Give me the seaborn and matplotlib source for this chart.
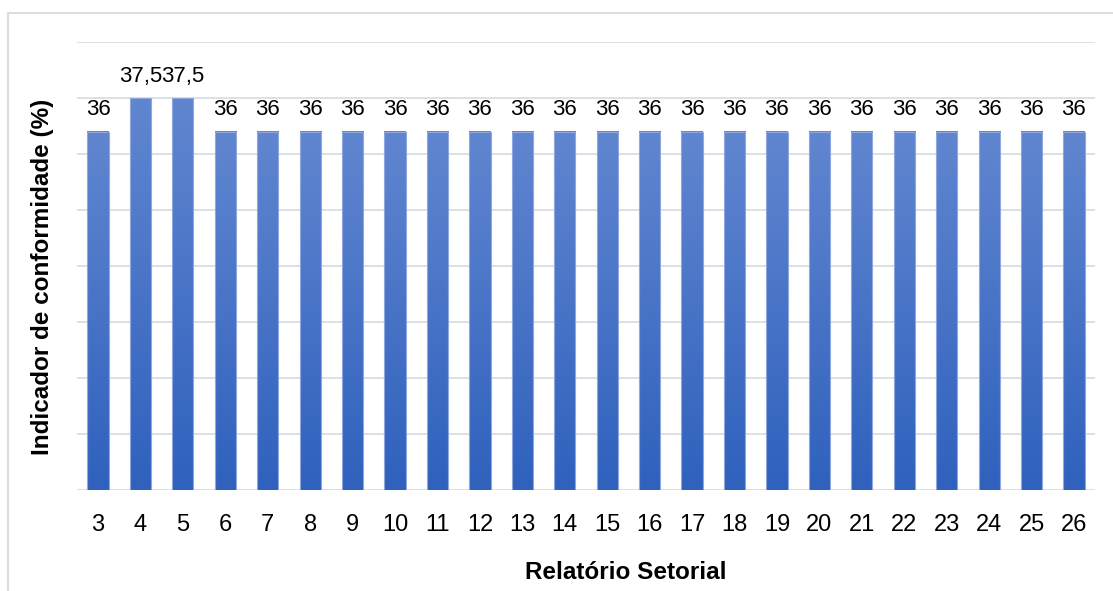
import numpy as np
import pandas as pd
import matplotlib
matplotlib.use("Agg")
import matplotlib.pyplot as plt
import seaborn as sns
from matplotlib.colors import LinearSegmentedColormap
from matplotlib.lines import Line2D

# data
relatorios = [str(i) for i in range(3, 27)]
indicador = [36, 37.5, 37.5] + [36] * 21

df = pd.DataFrame({"relatorio": relatorios, "indicador": indicador})

sns.set_theme(style="white")
plt.rcParams["font.family"] = ["Liberation Sans", "DejaVu Sans"]

fig = plt.figure(figsize=(11.13, 5.91), dpi=100)
ax = fig.add_axes([0.069, 0.171, 0.915, 0.758])

sns.barplot(data=df, x="relatorio", y="indicador", ax=ax, width=0.5,
            color="#4a78cc", saturation=1)

ax.set_yticks(np.arange(20, 40.1, 2.5))
ax.yaxis.grid(True, color="#d9dde6", linewidth=1.3)
ax.set_axisbelow(True)
ax.tick_params(axis="y", left=False, labelleft=False)
ax.tick_params(axis="x", bottom=False, labelsize=17, pad=11,
               labelcolor="black")
for s in ax.spines.values():
    s.set_visible(False)

# gradient fill on each bar
cmap = LinearSegmentedColormap.from_list("grad", ["#2f61bd", "#6186d0"])
grad = np.linspace(0, 1, 256).reshape(-1, 1)
for p in ax.patches:
    x0, y0 = p.get_x(), p.get_y()
    w, h = p.get_width(), p.get_height()
    y_low = max(y0, 20)
    ax.imshow(grad, cmap=cmap, origin="lower", aspect="auto",
              extent=[x0, x0 + w, y_low, y0 + h], zorder=2)
    p.set_facecolor("none")
    p.set_edgecolor("#8ea8df")
    p.set_linewidth(0.8)
    p.set_zorder(3)
ax.set_xlim(-0.5, len(relatorios) - 0.5)
ax.set_ylim(20, 40)

# value labels
for i, v in enumerate(indicador):
    txt = f"{v:g}".replace(".", ",")
    ax.annotate(txt, (i, v), xytext=(0, 8), textcoords="offset points",
                ha="center", va="bottom", fontsize=16, color="black")

ax.set_xlabel("Relatório Setorial", fontsize=17.5, fontweight="bold",
              color="black")
ax.set_ylabel("Indicador de conformidade (%)", fontsize=17.5,
              fontweight="bold", color="black")
ax.xaxis.set_label_coords(0.539, -0.158)
ax.yaxis.set_label_coords(-0.022, 0.475)

# chart area border
fig.add_artist(Line2D([8 / 1113, 8 / 1113], [0, 1 - 13 / 591],
                      transform=fig.transFigure, color="#d9dde6", lw=1.5))
fig.add_artist(Line2D([8 / 1113, 1], [1 - 13 / 591, 1 - 13 / 591],
                      transform=fig.transFigure, color="#d9dde6", lw=1.5))

fig.savefig("out.png", dpi=100)
